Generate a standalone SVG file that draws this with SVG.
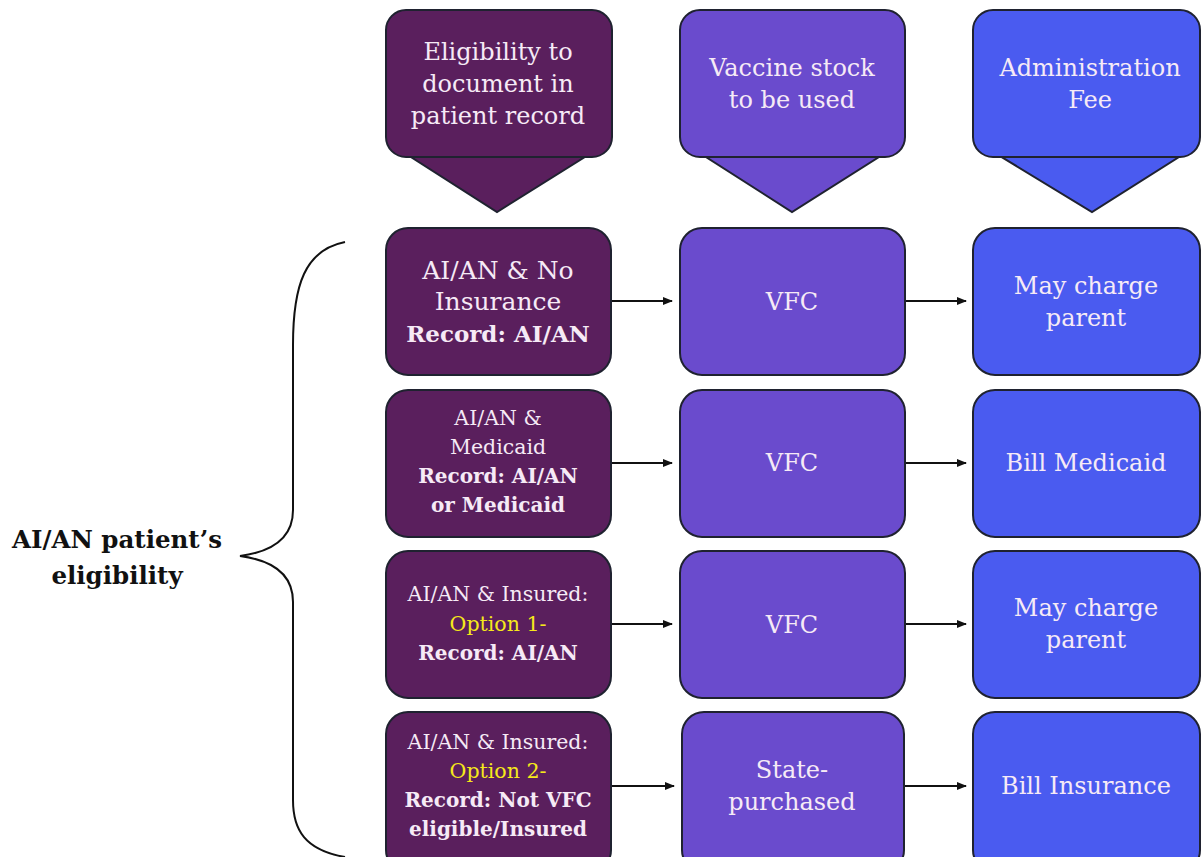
<svg xmlns="http://www.w3.org/2000/svg" width="1202" height="857" viewBox="0 0 1202 857">
<defs>
<style>
.l{fill:#5a1f5d;stroke:#1f2230;stroke-width:2}
.m{fill:#6a4bcd;stroke:#1f2230;stroke-width:2}
.r{fill:#4a5bf0;stroke:#1f2230;stroke-width:2}
.t{font-family:"DejaVu Serif","Liberation Serif",serif;fill:#f6eaf6;text-anchor:middle}
.h{font-size:24px}
.b{font-size:20.5px}
.bd{font-weight:bold}
.y{fill:#f5e81a}
.c{stroke:#111;stroke-width:2;fill:none}
</style>
<marker id="ah" markerWidth="10" markerHeight="8" refX="9" refY="4" orient="auto" markerUnits="userSpaceOnUse">
<path d="M0,0 L10,4 L0,8 z" fill="#111"/>
</marker>
</defs>
<rect width="1202" height="857" fill="#ffffff"/>

<g id="header-eligibility">
<polygon class="l" points="400,150 596,150 497,212"/>
<rect class="l" x="386" y="10" width="226" height="147" rx="20"/>
<text class="t h" x="498" y="60">Eligibility to</text>
<text class="t h" x="498" y="92">document in</text>
<text class="t h" x="498" y="124">patient record</text>
</g>
<g id="header-stock">
<polygon class="m" points="695,150 890,150 792,212"/>
<rect class="m" x="680" y="10" width="225" height="147" rx="20"/>
<text class="t h" x="792" y="76">Vaccine stock</text>
<text class="t h" x="792" y="108">to be used</text>
</g>
<g id="header-fee">
<polygon class="r" points="990,150 1190,150 1092,212"/>
<rect class="r" x="973" y="10" width="227" height="147" rx="20"/>
<text class="t h" x="1090" y="76">Administration</text>
<text class="t h" x="1090" y="108">Fee</text>
</g>

<g id="brace">
<path class="c" d="M345,242 C305,250 293,285 293,345 L293,510 C293,540 270,552 240,556 C270,560 293,572 293,602 L293,800 C293,830 305,850 345,857"/>
</g>
<g id="label">
<text class="t bd" style="fill:#111;font-size:24.5px" x="117" y="548">AI/AN patient’s</text>
<text class="t bd" style="fill:#111;font-size:24.5px" x="117" y="584">eligibility</text>
</g>

<g id="connectors">
<line class="c" x1="612" y1="301" x2="672" y2="301" marker-end="url(#ah)"/>
<line class="c" x1="905" y1="301" x2="966" y2="301" marker-end="url(#ah)"/>
<line class="c" x1="612" y1="463" x2="672" y2="463" marker-end="url(#ah)"/>
<line class="c" x1="905" y1="463" x2="966" y2="463" marker-end="url(#ah)"/>
<line class="c" x1="612" y1="624" x2="672" y2="624" marker-end="url(#ah)"/>
<line class="c" x1="905" y1="624" x2="966" y2="624" marker-end="url(#ah)"/>
<line class="c" x1="612" y1="786" x2="674" y2="786" marker-end="url(#ah)"/>
<line class="c" x1="905" y1="786" x2="966" y2="786" marker-end="url(#ah)"/>
</g>

<g id="row1-eligibility">
<rect class="l" x="386" y="228" width="225" height="147" rx="22"/>
<text class="t" style="font-size:25px" x="498" y="279">AI/AN &amp; No</text>
<text class="t" style="font-size:25px" x="498" y="310">Insurance</text>
<text class="t bd" style="font-size:23px" x="498" y="342">Record: AI/AN</text>
</g>
<g id="row1-stock">
<rect class="m" x="680" y="228" width="225" height="147" rx="22"/>
<text class="t h" x="792" y="310">VFC</text>
</g>
<g id="row1-fee">
<rect class="r" x="973" y="228" width="227" height="147" rx="22"/>
<text class="t h" x="1086" y="294">May charge</text>
<text class="t h" x="1086" y="326">parent</text>
</g>

<g id="row2-eligibility">
<rect class="l" x="386" y="390" width="225" height="147" rx="22"/>
<text class="t b" x="498" y="425">AI/AN &amp;</text>
<text class="t b" x="498" y="454">Medicaid</text>
<text class="t bd" style="font-size:20px" x="498" y="483">Record: AI/AN</text>
<text class="t bd" style="font-size:20px" x="498" y="512">or Medicaid</text>
</g>
<g id="row2-stock">
<rect class="m" x="680" y="390" width="225" height="147" rx="22"/>
<text class="t h" x="792" y="471">VFC</text>
</g>
<g id="row2-fee">
<rect class="r" x="973" y="390" width="227" height="147" rx="22"/>
<text class="t h" x="1086" y="471">Bill Medicaid</text>
</g>

<g id="row3-eligibility">
<rect class="l" x="386" y="551" width="225" height="147" rx="22"/>
<text class="t b" x="498" y="601">AI/AN &amp; Insured:</text>
<text class="t b y" x="498" y="631">Option 1-</text>
<text class="t bd" style="font-size:20px" x="498" y="660">Record: AI/AN</text>
</g>
<g id="row3-stock">
<rect class="m" x="680" y="551" width="225" height="147" rx="22"/>
<text class="t h" x="792" y="633">VFC</text>
</g>
<g id="row3-fee">
<rect class="r" x="973" y="551" width="227" height="147" rx="22"/>
<text class="t h" x="1086" y="616">May charge</text>
<text class="t h" x="1086" y="648">parent</text>
</g>

<g id="row4-eligibility">
<rect class="l" x="386" y="712" width="225" height="160" rx="22"/>
<text class="t b" x="498" y="749">AI/AN &amp; Insured:</text>
<text class="t b y" x="498" y="778">Option 2-</text>
<text class="t bd" style="font-size:20px" x="498" y="807">Record: Not VFC</text>
<text class="t bd" style="font-size:20px" x="498" y="836">eligible/Insured</text>
</g>
<g id="row4-stock">
<rect class="m" x="682" y="712" width="222" height="160" rx="22"/>
<text class="t h" x="792" y="778">State-</text>
<text class="t h" x="792" y="810">purchased</text>
</g>
<g id="row4-fee">
<rect class="r" x="973" y="712" width="227" height="160" rx="22"/>
<text class="t h" x="1086" y="794">Bill Insurance</text>
</g>
</svg>
